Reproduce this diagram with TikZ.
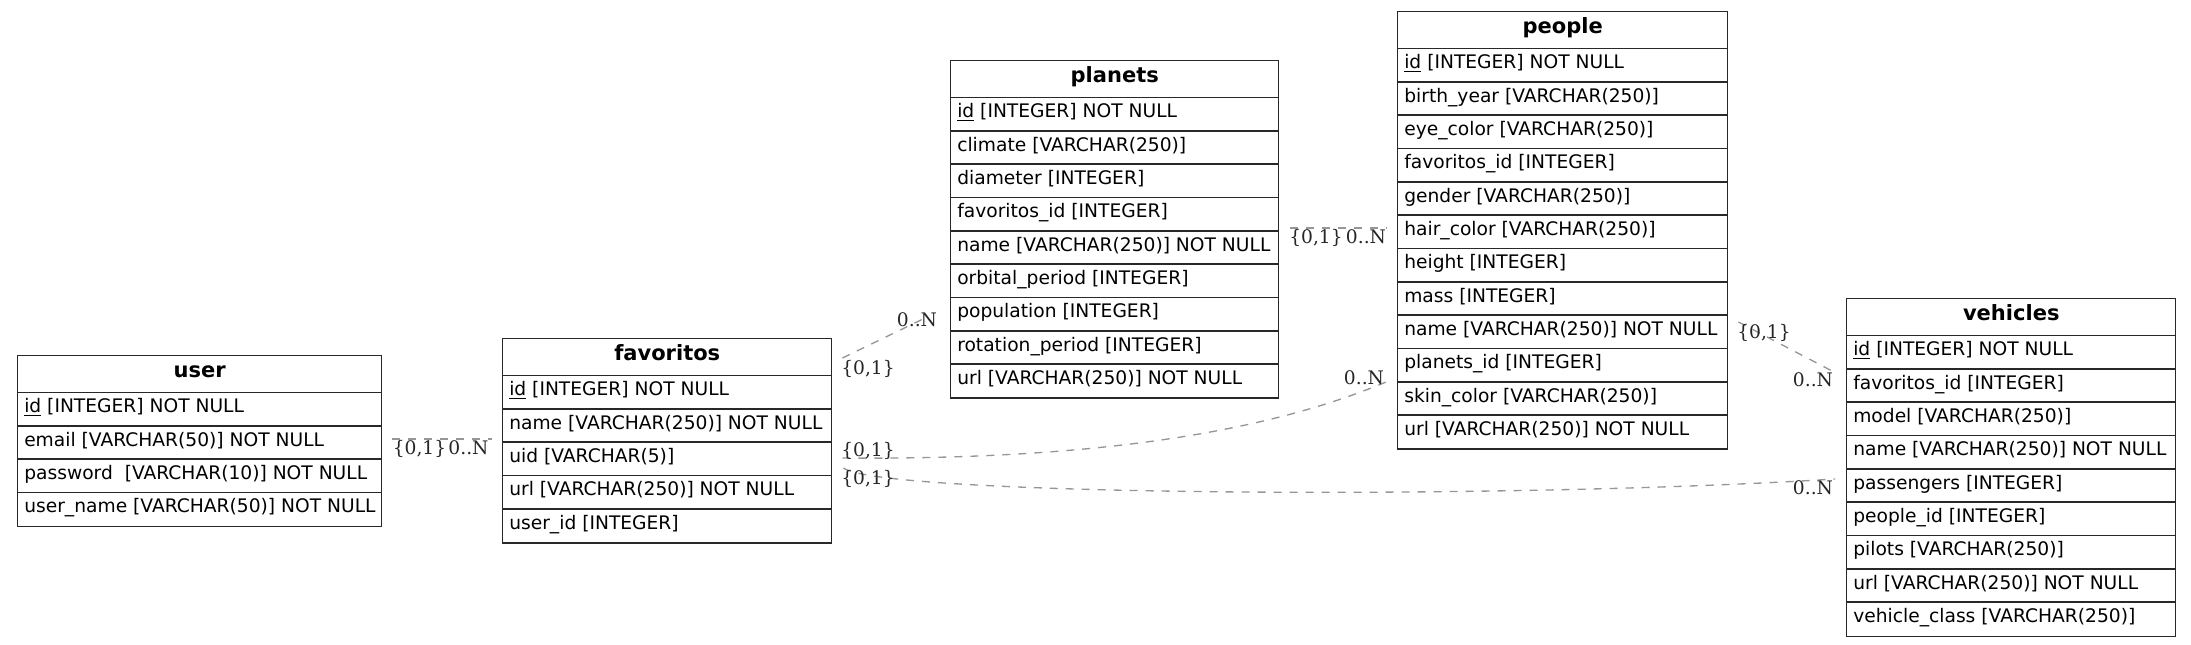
\documentclass[tikz,border=0pt]{standalone}
\usepackage{fontspec}
\setmainfont{DejaVu Sans}
\newfontfamily\lblfont{DejaVu Serif}
\usetikzlibrary{calc}
\definecolor{edgegray}{RGB}{150,150,150}
\definecolor{framecol}{RGB}{40,40,40}
\tikzset{
 tablebox/.style={draw=framecol, line width=1.1pt, inner sep=0pt, anchor=north west},
 rowline/.style={draw=framecol, line width=1.1pt},
 rowtext/.style={anchor=base west, inner sep=0pt, font=\fontsize{14pt}{16pt}\selectfont},
 headtext/.style={anchor=base, inner sep=0pt, font=\fontsize{15.75pt}{18pt}\selectfont\bfseries},
 card/.style={anchor=base, inner sep=0pt, font=\lblfont\fontsize{14pt}{16pt}\selectfont, text=black!85},
 rel/.style={draw=edgegray, line width=1pt, dash pattern=on 6pt off 6pt},
}
% name, x, y, width, nrows, title, rows
\newcommand{\ertable}[7]{%
 \node[tablebox, minimum width={#4*0.75pt}, minimum height={(37.5+#5*33.333)*0.75pt}] (#1) at (#2,#3) {};
 \node[headtext] (#1-title) at ($(#1.north)+(0,22.5)$) {#6};
 \draw[rowline] ($(#1.north west)+(0,37.5)$) -- ($(#1.north east)+(0,37.5)$);
 \foreach \rowtxt [count=\i] in {#7} {
   \node[rowtext] (#1-\i) at ($(#1.north west)+(7,{37.5+\i*33.333-13})$) {\rowtxt};
   \ifnum\i<#5
     \draw[rowline] ($(#1.north west)+(0,{37.5+\i*33.333})$) -- ($(#1.north east)+(0,{37.5+\i*33.333})$);
   \fi
 }
}
\begin{document}
\begin{tikzpicture}[x=0.75pt,y=-0.75pt]
\useasboundingbox (0,0) rectangle (2191,645);

\ertable{user}{17}{355}{364}{4}{user}{{\underline{id} [INTEGER] NOT NULL},{email [VARCHAR(50)] NOT NULL},{password\ \ [VARCHAR(10)] NOT NULL},{user\_name [VARCHAR(50)] NOT NULL}}

\ertable{favoritos}{502}{338}{329}{5}{favoritos}{{\underline{id} [INTEGER] NOT NULL},{name [VARCHAR(250)] NOT NULL},{uid [VARCHAR(5)]},{url [VARCHAR(250)] NOT NULL},{user\_id [INTEGER]}}

\ertable{planets}{950}{60}{328}{9}{planets}{{\underline{id} [INTEGER] NOT NULL},{climate [VARCHAR(250)]},{diameter [INTEGER]},{favoritos\_id [INTEGER]},{name [VARCHAR(250)] NOT NULL},{orbital\_period [INTEGER]},{population [INTEGER]},{rotation\_period [INTEGER]},{url [VARCHAR(250)] NOT NULL}}

\ertable{people}{1397}{11}{330}{12}{people}{{\underline{id} [INTEGER] NOT NULL},{birth\_year [VARCHAR(250)]},{eye\_color [VARCHAR(250)]},{favoritos\_id [INTEGER]},{gender [VARCHAR(250)]},{hair\_color [VARCHAR(250)]},{height [INTEGER]},{mass [INTEGER]},{name [VARCHAR(250)] NOT NULL},{planets\_id [INTEGER]},{skin\_color [VARCHAR(250)]},{url [VARCHAR(250)] NOT NULL}}

\ertable{vehicles}{1846}{298}{329}{9}{vehicles}{{\underline{id} [INTEGER] NOT NULL},{favoritos\_id [INTEGER]},{model [VARCHAR(250)]},{name [VARCHAR(250)] NOT NULL},{passengers [INTEGER]},{people\_id [INTEGER]},{pilots [VARCHAR(250)]},{url [VARCHAR(250)] NOT NULL},{vehicle\_class [VARCHAR(250)]}}

% connector end points
\coordinate (c1a) at ($(user.north east)+(10,84)$);
\coordinate (c1b) at ($(favoritos.north west)+(-10,101)$);
\coordinate (c2a) at ($(favoritos.north east)+(10,20)$);
\coordinate (c2b) at ($(planets.north west)+(-25,258)$);
\coordinate (c3a) at ($(planets.north east)+(11,168)$);
\coordinate (c3b) at ($(people.north west)+(-10,217)$);
\coordinate (c4a) at ($(favoritos.north east)+(10,120)$);
\coordinate (c4b) at ($(people.north west)+(-11,371)$);
\coordinate (c5a) at ($(favoritos.north east)+(11,130)$);
\coordinate (c5b) at ($(vehicles.north west)+(-11,181)$);
\coordinate (c6a) at ($(people.north east)+(10,311)$);
\coordinate (c6b) at ($(vehicles.north west)+(-14,73)$);

\draw[rel] (c1a) -- (c1b);
\draw[rel] (c2a) -- (c2b);
\draw[rel] (c3a) -- (c3b);
\draw[rel] (c4a) .. controls +(239,2) and +(-126,53) .. (c4b);
\draw[rel] (c5a) .. controls +(38,28) and +(-335,21) .. (c5b);
\draw[rel] (c6a) -- (c6b);

% cardinality labels
\node[card] (l1a) at (419.5,454.5) {\{0,1\}};
\node[card] (l1b) at (468.5,454.5) {0..N};
\node[card] (l2a) at (868,374.5) {\{0,1\}};
\node[card] (l2b) at (917,326.5) {0..N};
\node[card] (l3a) at (1316,243.5) {\{0,1\}};
\node[card] (l3b) at (1366,243.5) {0..N};
\node[card] (l4a) at (868,456.5) {\{0,1\}};
\node[card] (l4b) at (1364,384.5) {0..N};
\node[card] (l5a) at (868,484.5) {\{0,1\}};
\node[card] (l5b) at (1813,494.5) {0..N};
\node[card] (l6a) at (1764,338.5) {\{0,1\}};
\node[card] (l6b) at (1813,386.5) {0..N};
\end{tikzpicture}
\end{document}
